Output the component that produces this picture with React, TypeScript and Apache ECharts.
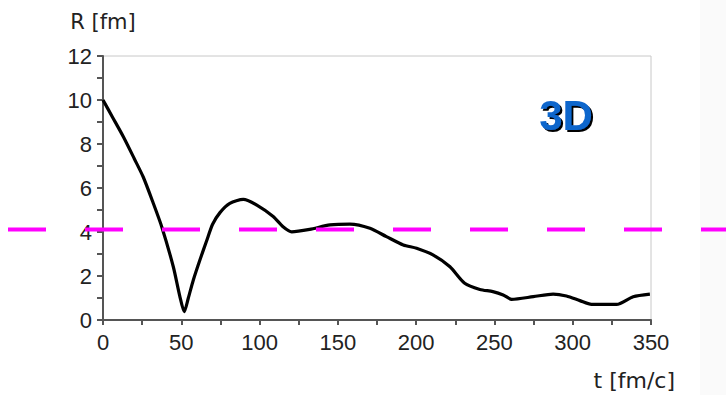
import React, { useEffect, useRef } from "react";
import * as echarts from "echarts";

// t [fm/c] sample positions
const tValues = [0, 6, 13, 20, 25.7, 32, 37.5, 44.9, 49, 51.9, 54.5, 57.7, 62, 66.2, 70, 74.7, 81, 89.6, 98, 108.7, 115, 120.5, 132, 145, 157.7, 170.5, 181, 191.8, 200.3, 211, 221.6, 231, 240.7, 249, 255.6, 261, 274.8, 287.5, 296, 304.6, 312, 328, 338.6, 349.3];
// R [fm] values
const rValues = [10, 9.23, 8.33, 7.33, 6.5, 5.33, 4.24, 2.42, 1.1, 0.38, 1.0, 1.82, 2.75, 3.6, 4.35, 4.88, 5.3, 5.48, 5.23, 4.7, 4.24, 4.01, 4.12, 4.32, 4.36, 4.17, 3.79, 3.41, 3.26, 2.95, 2.42, 1.67, 1.39, 1.29, 1.14, 0.94, 1.06, 1.18, 1.09, 0.88, 0.71, 0.71, 1.06, 1.18];
const thresholdR = 4.11;
const xAxisTitle = "t [fm/c]";
const yAxisTitle = "R [fm]";
const badge = "3D";

export default function App() {
  const ref = useRef<HTMLDivElement>(null);
  useEffect(() => {
    if (!ref.current) return;
    const chart = echarts.init(ref.current, undefined, { renderer: "svg" });
    const axisColor = "#555";
    const labelFont = { fontFamily: "Liberation Sans, Arial, sans-serif", fontSize: 22, color: "#222" };
    chart.setOption({
      animation: false,
      backgroundColor: "#fff",
      grid: { left: 103, right: 75, top: 56, bottom: 75, show: true, borderColor: "#c8c8c8", borderWidth: 1 },
      xAxis: {
        type: "value", min: 0, max: 350, interval: 50,
        axisLine: { show: true, lineStyle: { color: axisColor, width: 2 } },
        axisTick: { show: true, length: 5, lineStyle: { color: axisColor, width: 2 } },
        minorTick: { show: true, splitNumber: 2, length: 5, lineStyle: { color: axisColor, width: 2 } },
        splitLine: { show: false },
        axisLabel: { ...labelFont, margin: 11 },
      },
      yAxis: {
        type: "value", min: 0, max: 12, interval: 2,
        name: yAxisTitle, nameLocation: "end", nameGap: 24,
        nameTextStyle: { fontFamily: "DejaVu Sans, sans-serif", fontSize: 21, color: "#222", align: "center" },
        axisLine: { show: true, lineStyle: { color: axisColor, width: 2 } },
        axisTick: { show: true, length: 6, lineStyle: { color: axisColor, width: 2 } },
        minorTick: { show: true, splitNumber: 2, length: 6, lineStyle: { color: axisColor, width: 2 } },
        splitLine: { show: false },
        axisLabel: { ...labelFont, margin: 11 },
      },
      series: [
        {
          type: "line",
          data: tValues.map((t, i) => [t, rValues[i]]),
          smooth: 0.25,
          showSymbol: false,
          lineStyle: { color: "#000", width: 3.2 },
        },
      ],
    });
    const yPix = chart.convertToPixel({ yAxisIndex: 0 }, thresholdR) as number;
    const xEnd = chart.convertToPixel({ xAxisIndex: 0 }, 350) as number;
    chart.setOption({
      graphic: [
        { type: "rect", z: -10, shape: { x: 700, y: 0, width: 26, height: 395 }, style: { fill: "#fafafa" } },
        {
          type: "line", z: 100,
          shape: { x1: 8, y1: yPix, x2: 726, y2: yPix },
          style: { stroke: "#ff00ff", lineWidth: 4, lineDash: [38, 39] },
        },
        {
          type: "text", z: 101, x: 566, y: 115,
          style: {
            text: badge, fill: "#1166cc",
            font: "bold 42px 'Liberation Sans', Arial, sans-serif",
            align: "center", verticalAlign: "middle",
            textShadowColor: "#000", textShadowOffsetX: 2, textShadowOffsetY: 2, textShadowBlur: 0.5,
          },
        },
        {
          type: "text", z: 100, x: xEnd + 24, y: 380,
          style: { text: xAxisTitle, fill: "#222", font: "22px 'DejaVu Sans', sans-serif", align: "right", verticalAlign: "middle" },
        },
      ],
    });
    return () => chart.dispose();
  }, []);
  return <div ref={ref} style={{ position: "fixed", left: 0, top: 0, width: 726, height: 395 }} />;
}
